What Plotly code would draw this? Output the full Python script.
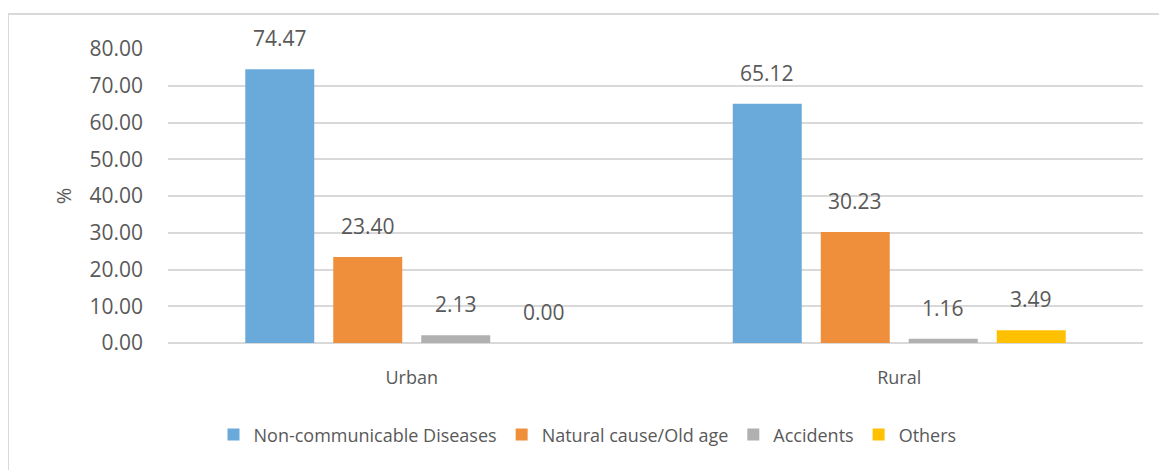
import plotly.graph_objects as go

categories = ["Urban", "Rural"]
series_names = ["Non-communicable Diseases", "Natural cause/Old age", "Accidents", "Others"]
ncd = [74.47, 65.12]
natural = [23.40, 30.23]
accidents = [2.13, 1.16]
others = [0.00, 3.49]
y_ticks = [0, 10, 20, 30, 40, 50, 60, 70, 80]

series_values = [ncd, natural, accidents, others]
colors = ["#6AAADB", "#EF8F3B", "#B0B0B0", "#FFC000"]

FONT = "Open Sans, Lato, sans-serif"
TXT = "#595959"
# page body has an 8px default margin; size the figure to fit the 1167x470 window
W, H = 1159, 462
ML, MR, MT, MB = 160, 24, 41, 127
plot_w = W - ML - MR
plot_h = H - MT - MB
bargap = 0.278
slot_px = plot_w / len(categories) * (1 - bargap) / len(series_names)

fig = go.Figure()
for name, vals, col in zip(series_names, series_values, colors):
    fig.add_trace(go.Bar(name=name, x=categories, y=vals,
                         marker=dict(color=col, line=dict(width=0))))

annotations = []
n = len(series_names)
for i, vals in enumerate(series_values):
    off = (i - (n - 1) / 2) * slot_px
    for c, v in zip(categories, vals):
        annotations.append(dict(x=c, y=v, xref="x", yref="y", text=f"{v:.2f}",
                                showarrow=False, xshift=off, yanchor="bottom", yshift=15,
                                font=dict(family=FONT, size=21, color=TXT)))

fig.update_layout(
    width=W, height=H,
    margin=dict(l=ML, r=MR, t=MT, b=MB, autoexpand=False),
    paper_bgcolor="white", plot_bgcolor="white",
    barmode="group", bargap=bargap, bargroupgap=0.216,
    font=dict(family=FONT, size=19, color=TXT),
    annotations=annotations,
    legend=dict(orientation="h", xref="container", x=0.5, xanchor="center",
                yref="container", y=0.076, yanchor="middle",
                font=dict(family=FONT, size=18, color=TXT), itemclick=False),
    shapes=[dict(type="rect", xref="paper", yref="paper",
                 x0=(0 - ML) / plot_w, x1=(W + 20 - ML) / plot_w,
                 y0=-(MB + 20) / plot_h, y1=(H - MB - 6) / plot_h,
                 line=dict(color="#D9D9D9", width=2), layer="below")],
)
fig.update_yaxes(range=[0, 80], tickvals=y_ticks, tickformat=".2f", automargin=False,
                 showgrid=True, gridcolor="#D9D9D9", gridwidth=2,
                 zeroline=True, zerolinecolor="#D9D9D9", zerolinewidth=2,
                 showline=False, ticks="", ticklabelstandoff=24,
                 title=dict(text="%", standoff=12, font=dict(size=20, color=TXT)),
                 tickfont=dict(size=21, color=TXT))
fig.update_xaxes(showline=False, ticks="", ticklabelstandoff=22, automargin=False,
                 tickfont=dict(size=18, color=TXT))

fig.write_html("out.html")
